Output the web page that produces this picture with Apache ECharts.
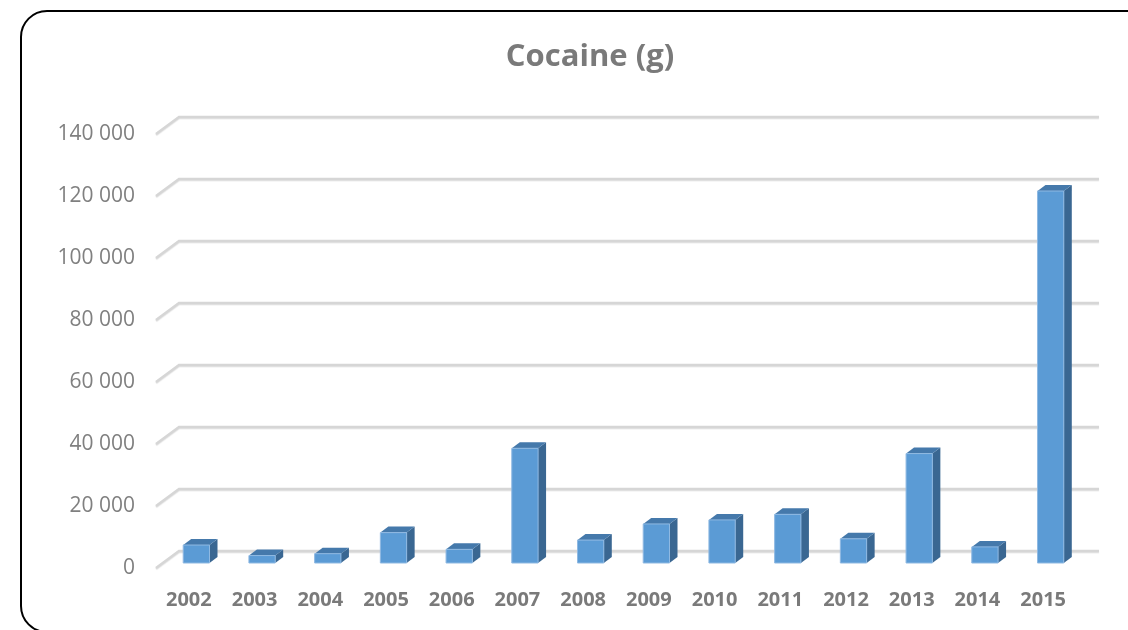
<!DOCTYPE html>
<html>
<head>
<meta charset="utf-8">
<script src="https://cdn.jsdelivr.net/npm/echarts@6/dist/echarts.min.js"></script>
<style>
html, body { margin: 0; padding: 0; background: #fff; }
#chart { width: 1128px; height: 630px; }
</style>
</head>
<body>
<div id="chart"></div>
<script>
var years = ["2002", "2003", "2004", "2005", "2006", "2007", "2008", "2009", "2010", "2011", "2012", "2013", "2014", "2015"];
var cocaine = [5800, 2400, 3000, 9800, 4400, 37000, 7400, 12600, 13900, 15700, 7800, 35300, 5200, 120000];
var yTicks = [0, 20000, 40000, 60000, 80000, 100000, 120000, 140000];

// depth of the 3d box (floor) and of the bars
var WALL_DX = 23, WALL_DY = -17;
var FACE_DX = 7.5, FACE_DY = -5;
var BAR_DX = 8, BAR_DY = -6;

var myChart = echarts.init(document.getElementById("chart"));

function fmt(v) {
    return String(v).replace(/\B(?=(\d{3})+(?!\d))/g, " ");
}

myChart.setOption({
    animation: false,
    title: {
        text: "Cocaine (g)",
        left: 585,
        top: 37,
        textAlign: "center",
        textStyle: {
            fontFamily: "Open Sans",
            fontSize: 31,
            fontWeight: "bold",
            color: "#7a7a7a"
        }
    },
    graphic: [
        {
            type: "rect",
            shape: { x: 21, y: 11, width: 1150, height: 621, r: 26 },
            style: { fill: "none", stroke: "#000", lineWidth: 2 },
            silent: true
        }
    ],
    grid: {
        left: 156,
        top: 134,
        width: 920,
        height: 434
    },
    xAxis: {
        type: "category",
        data: years,
        axisLine: { show: false },
        axisTick: { show: false },
        axisLabel: {
            margin: 22,
            color: "#7a7a7a",
            fontFamily: "Open Sans",
            fontSize: 20,
            fontWeight: "bold"
        },
        splitLine: { show: false }
    },
    yAxis: {
        type: "value",
        min: 0,
        max: 140000,
        interval: 20000,
        axisLine: { show: false },
        axisTick: { show: false },
        splitLine: { show: false },
        axisLabel: {
            margin: 21,
            color: "#808080",
            fontFamily: "Open Sans",
            fontSize: 21,
            formatter: fmt
        }
    },
    series: [
        {
            // back wall gridlines + left diagonal
            type: "custom",
            silent: true,
            z: 1,
            data: yTicks.map(function (v) { return [0, v]; }),
            encode: { x: 0, y: 1 },
            renderItem: function (params, api) {
                var p = api.coord([0, api.value(1)]);
                var cs = params.coordSys;
                var x0 = cs.x, y = p[1];
                return {
                    type: "polyline",
                    shape: {
                        points: [
                            [x0, y],
                            [x0 + WALL_DX, y + WALL_DY],
                            [x0 + WALL_DX + cs.width, y + WALL_DY]
                        ]
                    },
                    style: {
                        stroke: "#d6d6d6",
                        lineWidth: 2.5,
                        fill: null,
                        shadowColor: "rgba(0,0,0,0.12)",
                        shadowOffsetY: 1,
                        shadowBlur: 1
                    }
                };
            }
        },
        {
            type: "custom",
            z: 5,
            data: cocaine.map(function (v, i) { return [i, v]; }),
            encode: { x: 0, y: 1 },
            renderItem: function (params, api) {
                var i = api.value(0);
                var top = api.coord([i, api.value(1)]);
                var bot = api.coord([i, 0]);
                var w = api.size([1, 0])[0] * 0.4;
                var xl = top[0] - w / 2 + FACE_DX;
                var xr = xl + w;
                var yt = top[1] + FACE_DY;
                var yb = bot[1] + FACE_DY;
                return {
                    type: "group",
                    children: [
                        {
                            type: "polygon",
                            shape: { points: [[xr, yt], [xr, yb], [xr + BAR_DX, yb + BAR_DY], [xr + BAR_DX, yt + BAR_DY]] },
                            style: { fill: "#3a6792" }
                        },
                        {
                            type: "polygon",
                            shape: { points: [[xl, yt], [xr, yt], [xr + BAR_DX, yt + BAR_DY], [xl + BAR_DX, yt + BAR_DY]] },
                            style: { fill: "#4579ab" }
                        },
                        {
                            type: "rect",
                            shape: { x: xl, y: yt, width: w, height: yb - yt },
                            style: { fill: "#5b9bd5", stroke: "#8fb9e2", lineWidth: 1 }
                        }
                    ]
                };
            }
        }
    ]
});
</script>
</body>
</html>
